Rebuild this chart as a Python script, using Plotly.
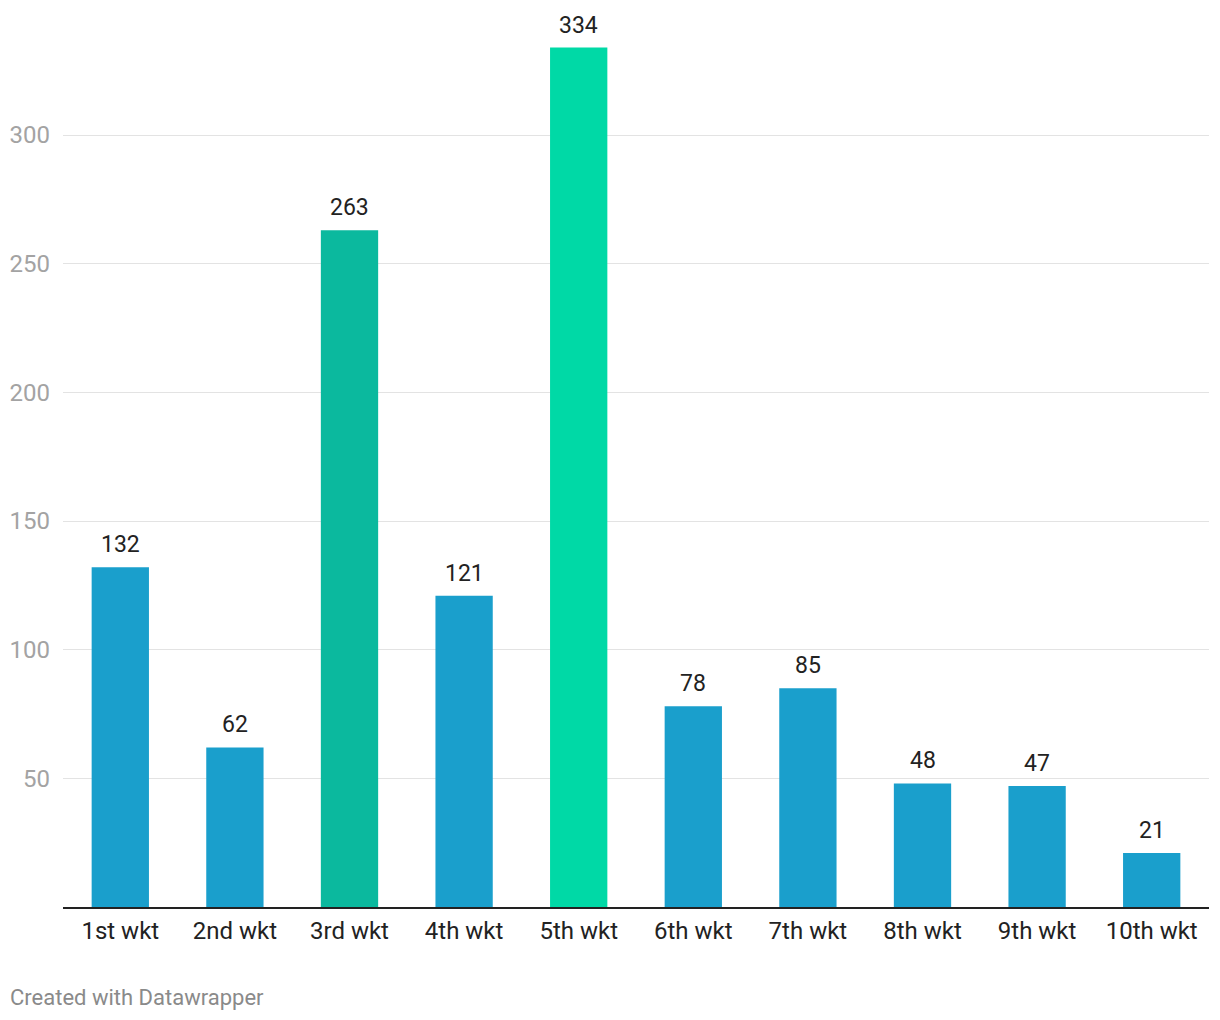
import plotly.graph_objects as go

categories = ["1st wkt", "2nd wkt", "3rd wkt", "4th wkt", "5th wkt",
              "6th wkt", "7th wkt", "8th wkt", "9th wkt", "10th wkt"]
values = [132, 62, 263, 121, 334, 78, 85, 48, 47, 21]
bar_colors = ["#1a9fcc", "#1a9fcc", "#0bb99e", "#1a9fcc", "#00d9a6",
              "#1a9fcc", "#1a9fcc", "#1a9fcc", "#1a9fcc", "#1a9fcc"]
y_ticks = [50, 100, 150, 200, 250, 300]

fig = go.Figure()
fig.add_trace(go.Bar(
    x=categories, y=values, marker=dict(color=bar_colors, line=dict(width=0)),
    width=0.5, hoverinfo="skip",
))

for c, v in zip(categories, values):
    fig.add_annotation(x=c, y=v, text=str(v), showarrow=False, yanchor="bottom",
                       yshift=7, font=dict(family="Roboto", size=23, color="#222222"))

fig.add_annotation(text="Created with Datawrapper", xref="paper", yref="paper",
                   x=-55/1146, y=-(997-906.6)/886.6, xanchor="left", yanchor="middle",
                   showarrow=False, font=dict(family="Roboto", size=22, color="#8a8a8a"))

fig.update_layout(
    width=1212, height=1012,
    margin=dict(l=55, r=11, t=12, b=113.4, pad=0, autoexpand=False),
    paper_bgcolor="white", plot_bgcolor="white",
    showlegend=False, bargap=0.5,
    font=dict(family="Roboto"),
)
fig.update_xaxes(
    showgrid=False, showline=True, linecolor="#222222", linewidth=2,
    ticks="", tickfont=dict(family="Roboto", size=24, color="#222222"),
    ticklabelstandoff=1, automargin=False,
)
fig.update_yaxes(
    range=[0, 344.7], tickvals=y_ticks, showgrid=True, gridcolor="#e3e3e3",
    gridwidth=1, zeroline=False, showline=False, ticks="",
    tickfont=dict(family="Roboto", size=24, color="#a3a3a3"),
    ticklabelstandoff=12, automargin=False,
)

fig.write_html("out.html")
